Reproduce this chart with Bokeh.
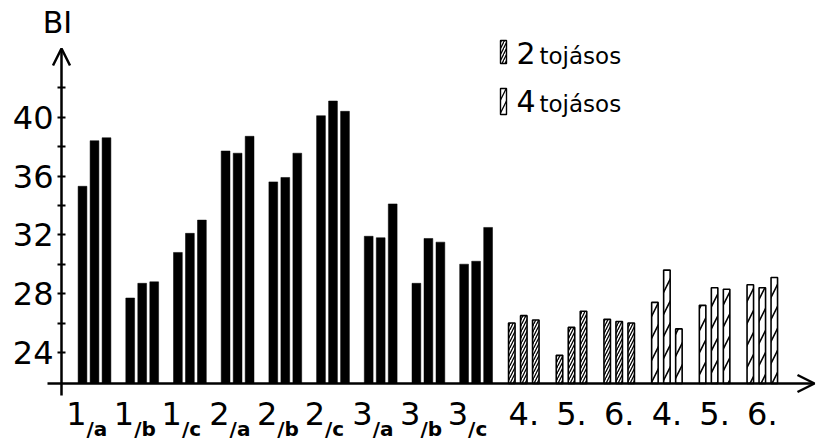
from bokeh.plotting import figure
from bokeh.models import (Range1d, LinearAxis, FixedTicker, Arrow, OpenHead,
                          Label, ColumnDataSource)
from bokeh.core.properties import value
from bokeh.embed import file_html
from bokeh.resources import INLINE

# ---------------- data ----------------
main_labels = ["1", "1", "1", "2", "2", "2", "3", "3", "3",
               "4.", "5.", "6.", "4.", "5.", "6."]
sub_labels = ["/a", "/b", "/c", "/a", "/b", "/c", "/a", "/b", "/c",
              "", "", "", "", "", ""]
bar1 = [35.3, 27.7, 30.8, 37.7, 35.6, 40.1, 31.9, 28.7, 30.0,
        26.0, 23.8, 26.25, 27.4, 27.2, 28.6]
bar2 = [38.4, 28.7, 32.1, 37.55, 35.9, 41.1, 31.8, 31.75, 30.2,
        26.5, 25.7, 26.1, 29.6, 28.4, 28.4]
bar3 = [38.6, 28.8, 33.0, 38.7, 37.55, 40.4, 34.1, 31.5, 32.5,
        26.2, 26.8, 26.0, 25.6, 28.3, 29.1]
kind = ["solid"] * 9 + ["2 tojásos"] * 3 + ["4 tojásos"] * 3
y_ticks = [24, 28, 32, 36, 40]
y_minor = [26, 30, 34, 38, 42]
legend_labels = [("2", "tojásos"), ("4", "tojásos")]
y_title = "BI"

# ---------------- geometry helpers (pixels -> data) ----------------
GROUP_PX = 47.7       # px between group centres
G0_PX = 94.0          # x of first group centre
UNIT_PX = 14.7        # px per BI unit
Y40_PX = 116.7        # y of value 40


def kx(px):
    return (px - G0_PX) / GROUP_PX


def vy(py):
    return 40 - (py - Y40_PX) / UNIT_PX


W, H = 819, 439
AXIS_X = kx(61)
BASE = vy(383)
FONT = "DejaVu Sans"

p = figure(width=W, height=H, x_range=Range1d(kx(0), kx(W)),
           y_range=Range1d(vy(H), vy(0)),
           x_axis_type=None, y_axis_type=None, toolbar_location=None,
           output_backend="svg", min_border_left=0, min_border_right=0,
           min_border_top=0, min_border_bottom=0, outline_line_color=None,
           background_fill_color="white", border_fill_color="white")

off = 12 / GROUP_PX
groups = list(range(len(main_labels)))

for vals, d in ((bar1, -off), (bar2, 0.0), (bar3, off)):
    xs = [g + d for g in groups]

    def src(name):
        return ColumnDataSource(dict(
            x=[x for x, k in zip(xs, kind) if k == name],
            top=[v for v, k in zip(vals, kind) if k == name]))

    p.vbar(x="x", top="top", bottom=BASE, width=8.8 / GROUP_PX, source=src("solid"),
           fill_color="black", line_color="black", line_width=0.5)
    p.vbar(x="x", top="top", bottom=BASE, width=6.5 / GROUP_PX, source=src("2 tojásos"),
           fill_color="white", line_color="black", line_width=1.6,
           hatch_pattern="/", hatch_scale=6, hatch_weight=1.3, hatch_color="black")
    p.vbar(x="x", top="top", bottom=BASE, width=6.5 / GROUP_PX, source=src("4 tojásos"),
           fill_color="white", line_color="black", line_width=1.6,
           hatch_pattern="/", hatch_scale=22, hatch_weight=1.6, hatch_color="black")

# ---------------- axes ----------------
yaxis = LinearAxis(ticker=FixedTicker(ticks=y_ticks, minor_ticks=y_minor),
                   bounds=(vy(395), vy(56)), fixed_location=AXIS_X)
yaxis.axis_line_color = None
yaxis.major_tick_in = 4
yaxis.major_tick_out = 4
yaxis.minor_tick_in = 4
yaxis.minor_tick_out = 4
yaxis.major_tick_line_width = 2
yaxis.minor_tick_line_width = 2
yaxis.major_tick_line_color = "black"
yaxis.minor_tick_line_color = "black"
yaxis.major_label_standoff = 4
yaxis.major_label_text_font = FONT
yaxis.major_label_text_font_size = "32px"
yaxis.major_label_text_color = "black"
p.add_layout(yaxis, "left")

p.add_layout(Arrow(end=OpenHead(size=17, line_width=2.5, line_color="black"),
                   x_start=AXIS_X, y_start=vy(395), x_end=AXIS_X, y_end=vy(48),
                   line_width=2.5, line_color="black"))
p.add_layout(Arrow(end=OpenHead(size=17, line_width=2.5, line_color="black"),
                   x_start=kx(47), y_start=BASE, x_end=kx(814), y_end=BASE,
                   line_width=2.5, line_color="black"))

# ---------------- category labels ----------------
with_sub = [g for g in groups if sub_labels[g]]
no_sub = [g for g in groups if not sub_labels[g]]
p.text(x=with_sub, y=[vy(413)] * len(with_sub), text=[main_labels[g] for g in with_sub],
       text_align="right", text_baseline="middle", x_offset=-8,
       text_font=value(FONT), text_font_size="32px", text_color="black")
p.text(x=with_sub, y=[vy(428)] * len(with_sub), text=[sub_labels[g] for g in with_sub],
       text_align="left", text_baseline="middle", x_offset=-8,
       text_font=value(FONT), text_font_size="20px", text_font_style="bold",
       text_color="black")
p.text(x=no_sub, y=[vy(413)] * len(no_sub), text=[main_labels[g] for g in no_sub],
       text_align="center", text_baseline="middle",
       text_font=value(FONT), text_font_size="32px", text_color="black")

# ---------------- title & legend ----------------
p.add_layout(Label(x=kx(57), y=vy(22), text=y_title, text_align="center",
                   text_baseline="middle", text_font=FONT,
                   text_font_size="30px", text_color="black"))

rows = [(40, 63, 52, 55, 6), (88, 114, 100, 103, 13)]
for (num, word), (ytop, ybot, cnum, cword, hs) in zip(legend_labels, rows):
    p.quad(left=kx(500), right=kx(506), top=vy(ytop), bottom=vy(ybot),
           fill_color="white", line_color="black", line_width=1.4,
           hatch_pattern="/", hatch_scale=hs, hatch_weight=1.3,
           hatch_color="black")
    p.add_layout(Label(x=kx(516), y=vy(cnum), text=num, text_align="left",
                       text_baseline="middle", text_font=FONT,
                       text_font_size="30px", text_color="black"))
    p.add_layout(Label(x=kx(539), y=vy(cword), text=word, text_align="left",
                       text_baseline="middle", text_font=FONT,
                       text_font_size="23px", text_color="black"))

open("out.html", "w").write(file_html(p, INLINE))
